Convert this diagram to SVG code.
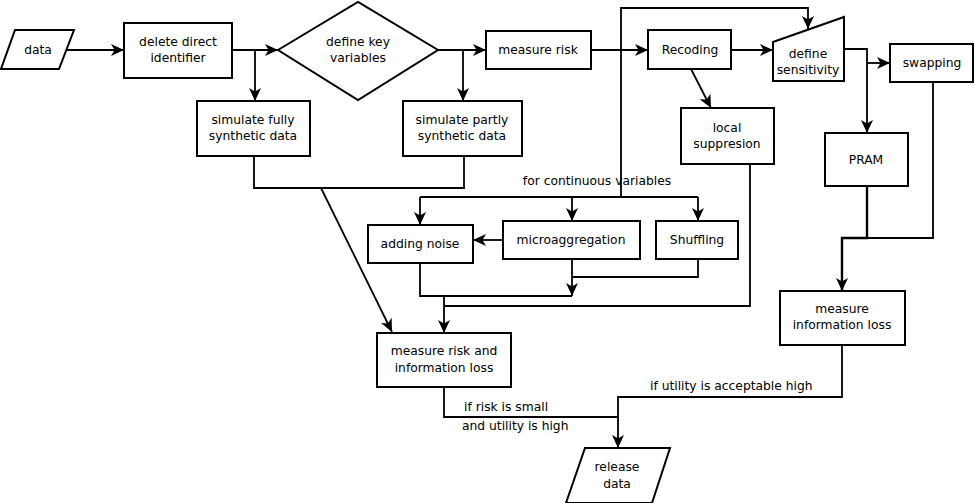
<svg xmlns="http://www.w3.org/2000/svg" width="974" height="503" viewBox="0 0 974 503">
<style>
.n{fill:#fff;stroke:#000;stroke-width:2}
.c{fill:none;stroke:#000;stroke-width:1.8}
.t{font-family:"DejaVu Sans",sans-serif;font-size:12.3px;fill:#000;text-anchor:middle;dominant-baseline:central}
.l{font-family:"DejaVu Sans",sans-serif;font-size:12.3px;fill:#000;dominant-baseline:central}
</style>
<defs>
<marker id="a" viewBox="-13 -6 13 12" refX="0" refY="0" markerWidth="13" markerHeight="12" markerUnits="userSpaceOnUse" orient="auto">
<path d="M0,0 L-13,-6 L-9.5,0 L-13,6 Z" fill="#000"/>
</marker>
</defs>
<rect width="974" height="503" fill="#fff"/>
<g id="connectors">
<path class="c" d="M67,50 H124" marker-end="url(#a)"/>
<path class="c" d="M232,50 H278" marker-end="url(#a)"/>
<path class="c" d="M255,50 V101" marker-end="url(#a)"/>
<path class="c" d="M438,50 H486" marker-end="url(#a)"/>
<path class="c" d="M463,50 V101" marker-end="url(#a)"/>
<path class="c" d="M591,50 H648" marker-end="url(#a)"/>
<path class="c" d="M731,50 H773" marker-end="url(#a)"/>
<path class="c" d="M621,197 V8 H808 V29" marker-end="url(#a)"/>
<path class="c" d="M420,197 H698"/>
<path class="c" d="M420,197 V225" marker-end="url(#a)"/>
<path class="c" d="M572,197 V221" marker-end="url(#a)"/>
<path class="c" d="M698,197 V221" marker-end="url(#a)"/>
<path class="c" d="M844,49 H867 V133" marker-end="url(#a)"/>
<path class="c" d="M867,63 H890" marker-end="url(#a)"/>
<path class="c" d="M691,69 L711,108" marker-end="url(#a)"/>
<path class="c" d="M750,164 V306 H444"/>
<path class="c" d="M254,156 V188 H464 V156"/>
<path class="c" d="M321,188 L392,332" marker-end="url(#a)"/>
<path class="c" d="M420,263 V296 H572"/>
<path class="c" d="M572,259 V296" marker-end="url(#a)"/>
<path class="c" d="M698,259 V277 H572"/>
<path class="c" d="M444,296 V333" marker-end="url(#a)"/>
<path class="c" d="M503,240 H473" marker-end="url(#a)"/>
<path class="c" d="M444,387 V417 H618"/>
<path class="c" d="M842,345 V397 H618 V448" marker-end="url(#a)"/>
<path class="c" d="M933,82 V238 H867"/>
<path class="c" d="M867,186 V238 H842 V291" style="stroke-width:2.4" marker-end="url(#a)"/>
</g>
<g id="data"><polygon class="n" points="15,30 74,30 59,69 1,69"/><text class="t" x="38" y="50">data</text></g>
<g id="delete"><rect class="n" x="124" y="23" width="108" height="55"/><text class="t" x="178" y="42">delete direct</text><text class="t" x="178" y="58">identifier</text></g>
<g id="fully"><rect class="n" x="197" y="101" width="113" height="55"/><text class="t" x="253" y="120">simulate fully</text><text class="t" x="253" y="136">synthetic data</text></g>
<g id="keyvars"><polygon class="n" points="278,50 358,2 438,50 358,100"/><text class="t" x="358" y="42">define key</text><text class="t" x="358" y="58">variables</text></g>
<g id="partly"><rect class="n" x="403" y="101" width="119" height="55"/><text class="t" x="462" y="120">simulate partly</text><text class="t" x="462" y="136">synthetic data</text></g>
<g id="measurerisk"><rect class="n" x="486" y="31" width="105" height="38"/><text class="t" x="538" y="50">measure risk</text></g>
<g id="recoding"><rect class="n" x="648" y="30" width="83" height="39"/><text class="t" x="690" y="50">Recoding</text></g>
<g id="sensitivity"><polygon class="n" points="773,42 844,17 844,81 773,81"/><text class="t" x="808" y="54">define</text><text class="t" x="808" y="70">sensitivity</text></g>
<g id="swapping"><rect class="n" x="890" y="44" width="83" height="38"/><text class="t" x="932" y="63">swapping</text></g>
<g id="local"><rect class="n" x="681" y="108" width="93" height="56"/><text class="t" x="727" y="128">local</text><text class="t" x="727" y="144">suppresion</text></g>
<g id="pram"><rect class="n" x="825" y="133" width="83" height="53"/><text class="t" x="866" y="160">PRAM</text></g>
<text class="t" x="597" y="181">for continuous variables</text>
<g id="noise"><rect class="n" x="368" y="225" width="105" height="38"/><text class="t" x="420" y="244">adding noise</text></g>
<g id="micro"><rect class="n" x="503" y="221" width="137" height="38"/><text class="t" x="571" y="240">microaggregation</text></g>
<g id="shuffling"><rect class="n" x="656" y="221" width="82" height="38"/><text class="t" x="697" y="240">Shuffling</text></g>
<g id="riskloss"><rect class="n" x="377" y="333" width="134" height="54"/><text class="t" x="444" y="351">measure risk and</text><text class="t" x="444" y="368">information loss</text></g>
<g id="infoloss"><rect class="n" x="780" y="291" width="125" height="54"/><text class="t" x="842" y="309">measure</text><text class="t" x="842" y="325">information loss</text></g>
<g id="release"><polygon class="n" points="585,448 670,448 652,503 566,503"/><text class="t" x="617" y="467">release</text><text class="t" x="617" y="484">data</text></g>
<text class="l" x="464" y="407">if risk is small</text>
<text class="l" x="462" y="426">and utility is high</text>
<text class="l" x="650" y="386">if utility is acceptable high</text>
</svg>
